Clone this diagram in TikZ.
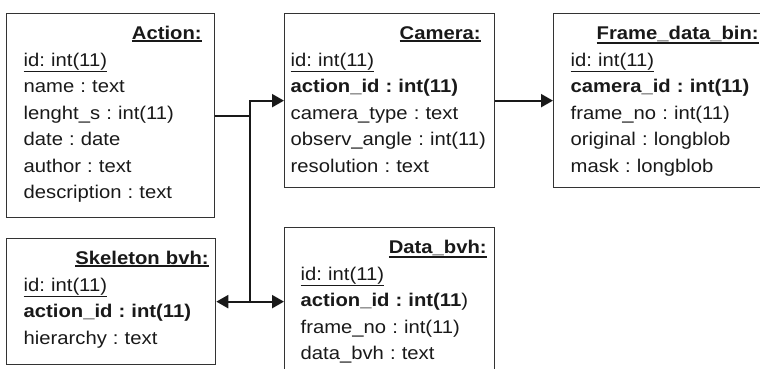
\documentclass[tikz,border=0pt]{standalone}
\usepackage{fontspec}
\setmainfont{Liberation Sans}[FakeStretch=1.1]
\usetikzlibrary{arrows.meta, positioning}
\frenchspacing

% underline for keys and table names
\newcommand{\keyul}[1]{\leavevmode\setbox0\hbox{#1}\rlap{\rule[-\dimexpr\dp0+1.2pt\relax]{\wd0}{0.9pt}}\box0}
\newcommand{\tbltitle}[2]{\leavevmode\hfill\keyul{\textbf{#2}}\kern#1\\}

\begin{document}
\begin{tikzpicture}[
            x=0.5pt, y=-0.5pt,
            tbl/.style={
                draw=black!80, line width=0.65pt, anchor=north west, align=left,
                inner ysep=0pt, text height=13pt, text=black!90,
                font={\fontsize{9.2}{13.25}\selectfont}
            },
            link/.style={line width=1.1pt, draw=black!90},
            tip/.style={-{Triangle[length=6pt, width=6.5pt]}}
        ]
        \useasboundingbox (0,0) rectangle (760,369);
        \clip (0,0) rectangle (760,369);

        % tables
        \node[tbl, inner xsep=8.5pt, text width=87pt, text depth=89pt] (action) at (6,13) {
            \tbltitle{-2pt}{Action:}
            \keyul{id: int(11)}\\
            name : text\\
            lenght\_s : int(11)\\
            date : date\\
            author : text\\
            description : text};
        \node[tbl, inner xsep=3pt, text width=99pt, text depth=74pt] (camera) at (284,13) {
            \tbltitle{4pt}{Camera:}
            \keyul{id: int(11)}\\
            \textbf{action\_id : int(11)}\\
            camera\_type : text\\
            observ\_angle : int(11)\\
            resolution : text};
        \node[tbl, inner xsep=8.5pt, text width=92pt, text depth=74pt] (frame) at (553,13) {
            \tbltitle{-2pt}{Frame\_data\_bin:}
            \keyul{id: int(11)}\\
            \textbf{camera\_id : int(11)}\\
            frame\_no : int(11)\\
            original : longblob\\
            mask : longblob};
        \node[tbl, inner xsep=8.5pt, text width=87.5pt, text depth=50pt] (skeleton) at (6,238) {
            \tbltitle{-5pt}{Skeleton bvh:}
            \keyul{id: int(11)}\\
            \textbf{action\_id : int(11)}\\
            hierarchy : text};
        \node[tbl, inner xsep=8pt, text width=89pt, text depth=60pt] (data) at (284,227) {
            \tbltitle{-4pt}{Data\_bvh:}
            \keyul{id: int(11)}\\
            \textbf{action\_id : int(11})\\
            frame\_no : int(11)\\
            data\_bvh : text};

        % links
        \draw[link] (action.east) -- ++(35,0) coordinate (fork);
        \draw[link, tip] (fork |- skeleton.east) -- (fork |- camera.west) -- (camera.west);
        \draw[link, tip] (fork |- skeleton.east) -- (skeleton.east);
        \draw[link, tip] (fork |- skeleton.east) -- (data.west |- skeleton.east);
        \draw[link, tip] (camera.east) -- (frame.west);
    \end{tikzpicture}
\end{document}
